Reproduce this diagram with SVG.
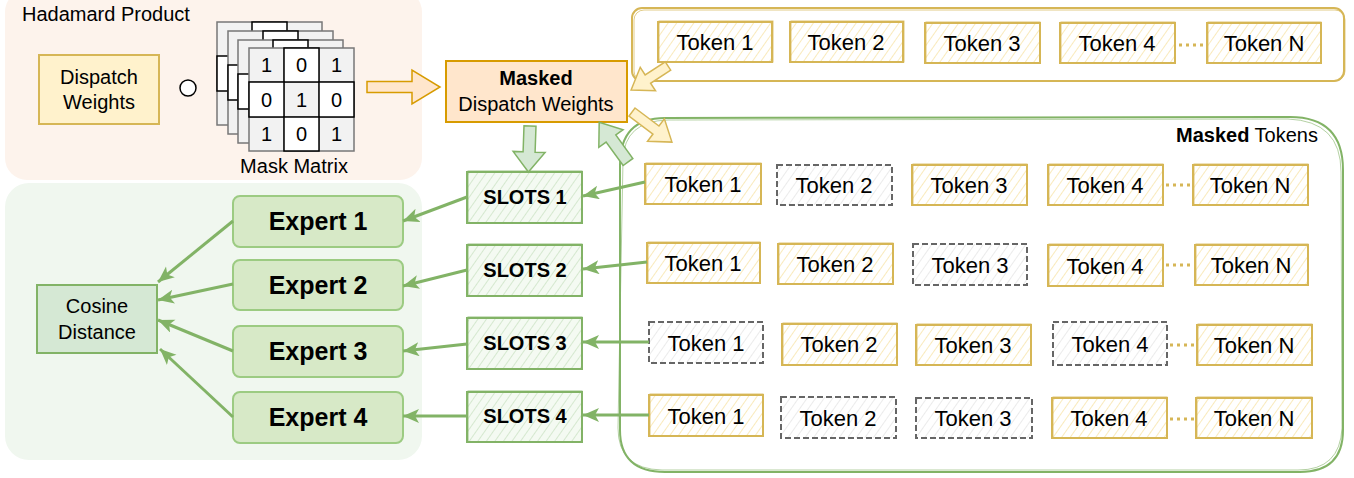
<svg xmlns="http://www.w3.org/2000/svg" width="1354" height="478" viewBox="0 0 1354 478">
<style>
text{font-family:"Liberation Sans",Arial,sans-serif;fill:#000}
.t20{font-size:20px;text-anchor:middle}
.t22{font-size:22px;text-anchor:middle}
.tk{fill:url(#hy);stroke:#d6b656;stroke-width:2}
.tk2{fill:none;stroke:#d6b656;stroke-width:1;opacity:.8}
.tm{fill:url(#hg);stroke:#666;stroke-width:2;stroke-dasharray:6 3}
.sl{fill:url(#hgr);stroke:#82b366;stroke-width:2}
.sl2{fill:none;stroke:#82b366;stroke-width:1;opacity:.8}
.ex{fill:#d7e9c7;stroke:#9ccb82;stroke-width:2}
.exT{font-size:25px;font-weight:bold;text-anchor:middle}
.slT{font-size:20px;font-weight:bold;text-anchor:middle}
.con{stroke:#82b366;stroke-width:3;fill:none;marker-end:url(#ah)}
.dots{stroke:#d6b656;stroke-width:3;stroke-dasharray:3 4;fill:none}
.cell0{fill:#fff;stroke:#000;stroke-width:1.5}
.sheet{fill:#f2f2f2;stroke:#777;stroke-width:1.5}
.yarr{fill:#fff2cc;stroke:#d6b656;stroke-width:1.5}
.garr{fill:#d5e8d4;stroke:#82b366;stroke-width:1.5}
</style>
<defs>
<pattern id="hy" width="7" height="7" patternUnits="userSpaceOnUse" patternTransform="rotate(35)">
<rect width="7" height="7" fill="#fff"/><line x1="0" y1="0" x2="0" y2="7" stroke="#f6df98" stroke-width="1.3"/>
</pattern>
<pattern id="hg" width="7" height="7" patternUnits="userSpaceOnUse" patternTransform="rotate(35)">
<rect width="7" height="7" fill="#fff"/><line x1="0" y1="0" x2="0" y2="7" stroke="#e0e0e0" stroke-width="1.3"/>
</pattern>
<pattern id="hgr" width="7" height="7" patternUnits="userSpaceOnUse" patternTransform="rotate(35)">
<rect width="7" height="7" fill="#f4faf2"/><line x1="0" y1="0" x2="0" y2="7" stroke="#c4dfbc" stroke-width="1.3"/>
</pattern>
<marker id="ah" markerUnits="userSpaceOnUse" markerWidth="18" markerHeight="16" refX="16" refY="7" orient="auto" viewBox="0 0 18 16">
<path d="M0,0 L16,7 L0,14 L4,7 Z" fill="#82b366"/>
</marker>
</defs>

<!-- backgrounds -->
<g id="bg-hadamard">
<rect x="5" y="-10" width="417" height="190" rx="22" fill="#fdf3ec"/>
<text x="22" y="21" style="font-size:20px">Hadamard Product</text>
</g>
<g id="bg-experts">
<rect x="5" y="183" width="417" height="277" rx="24" fill="#f0f7ef"/>
</g>

<!-- containers -->
<g id="top-tokens-container">
<rect x="632" y="8" width="712" height="73" rx="10" fill="none" stroke="#d6b656" stroke-width="2"/>
<rect x="634" y="10" width="711" height="71" rx="10" fill="none" stroke="#d6b656" stroke-width="1" opacity=".7"/>
</g>
<g id="masked-tokens-container">
<path d="M620,165 Q620,118 665,118 L1290,117 Q1343,117 1343,170 L1343,430 Q1343,472 1300,472 L665,472 Q620,472 620,430 Z" fill="none" stroke="#82b366" stroke-width="2"/>
<path d="M623,160 Q624,121 668,120 L1288,119 Q1341,121 1341,172 L1342,428 Q1340,470 1298,470 L662,470 Q618,469 618,428 Z" fill="none" stroke="#82b366" stroke-width="1" opacity=".6"/>
<text x="1318" y="142" style="font-size:20px;text-anchor:end"><tspan font-weight="bold">Masked</tspan> Tokens</text>
</g>

<!-- Hadamard section -->
<g id="dispatch-weights">
<rect x="39" y="55" width="120" height="69" fill="#fff2cc" stroke="#d6b656" stroke-width="2"/>
<text x="99" y="84" class="t20">Dispatch</text>
<text x="99" y="109" class="t20">Weights</text>
</g>
<g id="hadamard-op">
<circle cx="188" cy="88" r="8" fill="#fff" stroke="#000" stroke-width="1.5"/>
</g>
<g id="mask-matrix">
<g transform="translate(217,22)">
<rect class="sheet" width="105" height="103"/>
<rect class="cell0" x="35" y="0" width="35" height="34"/><rect class="cell0" x="0" y="34" width="35" height="35"/>
</g>
<g transform="translate(228,31)">
<rect class="sheet" width="105" height="103"/>
<rect class="cell0" x="35" y="0" width="35" height="34"/><rect class="cell0" x="0" y="34" width="35" height="35"/>
</g>
<g transform="translate(238,40)">
<rect class="sheet" width="105" height="103"/>
<rect class="cell0" x="35" y="0" width="35" height="34"/><rect class="cell0" x="0" y="34" width="35" height="35"/>
</g>
<g transform="translate(249,48)">
<rect class="sheet" width="105" height="103"/>
<line x1="0" y1="34" x2="105" y2="34" stroke="#777"/><line x1="0" y1="69" x2="105" y2="69" stroke="#777"/>
<line x1="35" y1="0" x2="35" y2="103" stroke="#777"/><line x1="70" y1="0" x2="70" y2="103" stroke="#777"/>
<rect class="cell0" x="35" y="0" width="35" height="34"/>
<rect class="cell0" x="0" y="34" width="35" height="35"/>
<rect class="cell0" x="70" y="34" width="35" height="35"/>
<rect class="cell0" x="35" y="69" width="35" height="34"/>
<text x="17.5" y="24" class="t20">1</text><text x="52.5" y="24" class="t20">0</text><text x="87.5" y="24" class="t20">1</text>
<text x="17.5" y="59" class="t20">0</text><text x="52.5" y="59" class="t20">1</text><text x="87.5" y="59" class="t20">0</text>
<text x="17.5" y="93" class="t20">1</text><text x="52.5" y="93" class="t20">0</text><text x="87.5" y="93" class="t20">1</text>
</g>
<text x="294" y="173" class="t20">Mask Matrix</text>
</g>

<g id="masked-dispatch-weights">
<rect x="446" y="61" width="181" height="61" fill="#ffe6cc" stroke="#d79b00" stroke-width="2"/>
<text x="536" y="85" style="font-size:20px;font-weight:bold;text-anchor:middle">Masked</text>
<text x="536" y="111" style="font-size:20px;text-anchor:middle">Dispatch Weights</text>
</g>

<!-- top token row -->
<g id="top-token-1"><rect class="tk" x="658" y="22" width="114" height="40"/><rect class="tk2" x="659" y="21" width="114" height="41"/><text x="715" y="50" class="t22">Token 1</text></g>
<g id="top-token-2"><rect class="tk" x="790" y="22" width="113" height="40"/><rect class="tk2" x="791" y="21" width="113" height="41"/><text x="846" y="50" class="t22">Token 2</text></g>
<g id="top-token-3"><rect class="tk" x="925" y="23" width="115" height="40"/><rect class="tk2" x="926" y="22" width="114" height="41"/><text x="982" y="51" class="t22">Token 3</text></g>
<g id="top-token-4"><rect class="tk" x="1060" y="23" width="115" height="40"/><rect class="tk2" x="1061" y="22" width="114" height="41"/><text x="1117" y="51" class="t22">Token 4</text></g>
<g id="top-token-n"><rect class="tk" x="1207" y="23" width="114" height="40"/><rect class="tk2" x="1208" y="22" width="113" height="41"/><text x="1264" y="51" class="t22">Token N</text></g>

<!-- row 1 -->
<g id="r1-token-1"><rect class="tk" x="645" y="164" width="116" height="40"/><rect class="tk2" x="646" y="163" width="115" height="41"/><text x="703" y="192" class="t22">Token 1</text></g>
<g id="r1-token-2"><rect class="tm" x="777" y="165" width="115" height="40"/><text x="834" y="193" class="t22">Token 2</text></g>
<g id="r1-token-3"><rect class="tk" x="912" y="165" width="115" height="40"/><rect class="tk2" x="913" y="164" width="114" height="41"/><text x="969" y="193" class="t22">Token 3</text></g>
<g id="r1-token-4"><rect class="tk" x="1048" y="165" width="115" height="40"/><rect class="tk2" x="1049" y="164" width="114" height="41"/><text x="1105" y="193" class="t22">Token 4</text></g>
<g id="r1-token-n"><rect class="tk" x="1193" y="165" width="115" height="40"/><rect class="tk2" x="1194" y="164" width="114" height="41"/><text x="1250" y="193" class="t22">Token N</text></g>

<!-- row 2 -->
<g id="r2-token-1"><rect class="tk" x="647" y="243" width="113" height="40"/><rect class="tk2" x="648" y="242" width="112" height="41"/><text x="703" y="271" class="t22">Token 1</text></g>
<g id="r2-token-2"><rect class="tk" x="778" y="244" width="115" height="40"/><rect class="tk2" x="779" y="243" width="114" height="41"/><text x="835" y="272" class="t22">Token 2</text></g>
<g id="r2-token-3"><rect class="tm" x="913" y="244" width="114" height="41"/><text x="970" y="273" class="t22">Token 3</text></g>
<g id="r2-token-4"><rect class="tk" x="1048" y="245" width="115" height="41"/><rect class="tk2" x="1049" y="244" width="114" height="42"/><text x="1105" y="274" class="t22">Token 4</text></g>
<g id="r2-token-n"><rect class="tk" x="1195" y="245" width="113" height="40"/><rect class="tk2" x="1196" y="244" width="112" height="41"/><text x="1251" y="273" class="t22">Token N</text></g>

<!-- row 3 -->
<g id="r3-token-1"><rect class="tm" x="649" y="322" width="114" height="41"/><text x="706" y="351" class="t22">Token 1</text></g>
<g id="r3-token-2"><rect class="tk" x="782" y="324" width="115" height="41"/><rect class="tk2" x="783" y="323" width="114" height="42"/><text x="839" y="352" class="t22">Token 2</text></g>
<g id="r3-token-3"><rect class="tk" x="916" y="325" width="115" height="40"/><rect class="tk2" x="917" y="324" width="114" height="41"/><text x="973" y="353" class="t22">Token 3</text></g>
<g id="r3-token-4"><rect class="tm" x="1053" y="322" width="114" height="43"/><text x="1110" y="352" class="t22">Token 4</text></g>
<g id="r3-token-n"><rect class="tk" x="1197" y="325" width="115" height="40"/><rect class="tk2" x="1198" y="324" width="114" height="41"/><text x="1254" y="353" class="t22">Token N</text></g>

<!-- row 4 -->
<g id="r4-token-1"><rect class="tk" x="649" y="395" width="114" height="41"/><rect class="tk2" x="650" y="394" width="113" height="42"/><text x="706" y="424" class="t22">Token 1</text></g>
<g id="r4-token-2"><rect class="tm" x="781" y="397" width="115" height="41"/><text x="838" y="426" class="t22">Token 2</text></g>
<g id="r4-token-3"><rect class="tm" x="916" y="398" width="116" height="40"/><text x="973" y="426" class="t22">Token 3</text></g>
<g id="r4-token-4"><rect class="tk" x="1052" y="398" width="115" height="40"/><rect class="tk2" x="1053" y="397" width="114" height="41"/><text x="1109" y="426" class="t22">Token 4</text></g>
<g id="r4-token-n"><rect class="tk" x="1196" y="398" width="116" height="40"/><rect class="tk2" x="1197" y="397" width="115" height="41"/><text x="1254" y="426" class="t22">Token N</text></g>

<!-- slots -->
<g id="slots-1"><rect class="sl" x="467" y="172" width="115" height="51"/><rect class="sl2" x="468" y="171" width="114" height="52"/><text x="525" y="204" class="slT">SLOTS 1</text></g>
<g id="slots-2"><rect class="sl" x="467" y="245" width="115" height="51"/><rect class="sl2" x="468" y="244" width="114" height="52"/><text x="525" y="277" class="slT">SLOTS 2</text></g>
<g id="slots-3"><rect class="sl" x="467" y="318" width="115" height="51"/><rect class="sl2" x="468" y="317" width="114" height="52"/><text x="525" y="350" class="slT">SLOTS 3</text></g>
<g id="slots-4"><rect class="sl" x="467" y="392" width="115" height="50"/><rect class="sl2" x="468" y="391" width="114" height="51"/><text x="525" y="423" class="slT">SLOTS 4</text></g>

<!-- experts -->
<g id="expert-1"><rect class="ex" x="233" y="196" width="170" height="51" rx="7"/><text x="318" y="230" class="exT">Expert 1</text></g>
<g id="expert-2"><rect class="ex" x="233" y="260" width="170" height="50" rx="7"/><text x="318" y="294" class="exT">Expert 2</text></g>
<g id="expert-3"><rect class="ex" x="233" y="326" width="170" height="51" rx="7"/><text x="318" y="360" class="exT">Expert 3</text></g>
<g id="expert-4"><rect class="ex" x="233" y="392" width="170" height="51" rx="7"/><text x="318" y="426" class="exT">Expert 4</text></g>

<g id="cosine-distance">
<rect x="37" y="285" width="120" height="68" fill="#d5e8d4" stroke="#82b366" stroke-width="2"/>
<text x="97" y="313" class="t20">Cosine</text>
<text x="97" y="339" class="t20">Distance</text>
</g>

<!-- connectors -->
<g id="connectors">
<polygon class="yarr" style="fill:#ffe6cc;stroke:#d79b00" transform="translate(367,87)" points="0,-5.5 45,-5.5 45,-17 73,0 45,17 45,5.5 0,5.5"/>
<polygon class="yarr" transform="translate(668,66) rotate(147)" points="0,-5 24,-5 24,-14 44,0 24,14 24,5 0,5"/>
<polygon class="yarr" transform="translate(632,112) rotate(37)" points="0,-5 30,-5 30,-14 50,0 30,14 30,5 0,5"/>
<polygon class="garr" transform="translate(530,126) rotate(92)" points="0,-6 26,-6 26,-16 46,0 26,16 26,6 0,6"/>
<polygon class="garr" transform="translate(628,162) rotate(-126)" points="0,-6 29,-6 29,-15 49,0 29,15 29,6 0,6"/>

<line class="dots" x1="1179" y1="45" x2="1205" y2="45"/>
<line class="dots" x1="1166" y1="185" x2="1191" y2="185"/>
<line class="dots" x1="1166" y1="265" x2="1193" y2="265"/>
<line class="dots" x1="1170" y1="345" x2="1196" y2="345"/>
<line class="dots" x1="1170" y1="419" x2="1195" y2="419"/>

<line class="con" x1="645" y1="182" x2="583" y2="196"/>
<line class="con" x1="647" y1="262" x2="583" y2="269"/>
<line class="con" x1="649" y1="342" x2="583" y2="342"/>
<line class="con" x1="649" y1="415" x2="583" y2="415"/>

<line class="con" x1="467" y1="197" x2="403" y2="221"/>
<line class="con" x1="467" y1="270" x2="403" y2="286"/>
<line class="con" x1="467" y1="344" x2="403" y2="351"/>
<line class="con" x1="467" y1="416" x2="403" y2="416"/>

<line class="con" x1="233" y1="221" x2="158" y2="282"/>
<line class="con" x1="233" y1="284" x2="158" y2="300"/>
<line class="con" x1="233" y1="351" x2="158" y2="320"/>
<line class="con" x1="233" y1="417" x2="160" y2="349"/>
</g>
</svg>
